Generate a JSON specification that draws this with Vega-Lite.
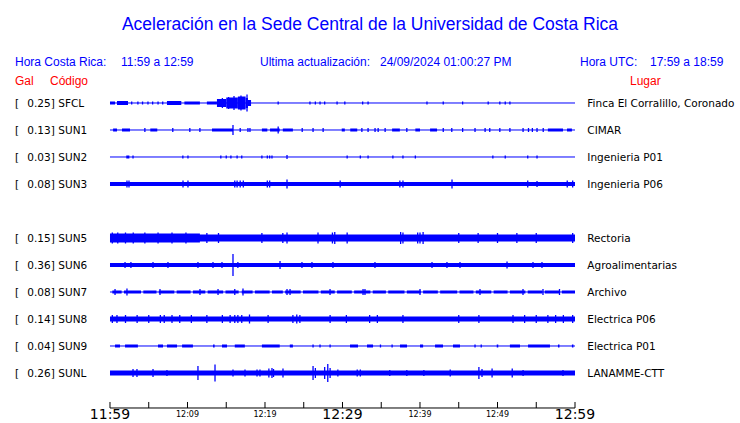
{
  "$schema": "https://vega.github.io/schema/vega-lite/v6.json",
  "width": 740,
  "height": 423,
  "autosize": {"type": "fit", "contains": "padding"},
  "padding": 0,
  "background": "white",
  "config": {"view": {"stroke": null}},
  "data": {"values": [{}]},
  "datasets": {
    "stations": [
      {"code": "SFCL", "order": 1, "gal": 0.25, "lugar": "Finca El Corralillo, Coronado"},
      {"code": "SUN1", "order": 2, "gal": 0.13, "lugar": "CIMAR"},
      {"code": "SUN2", "order": 3, "gal": 0.03, "lugar": "Ingenieria P01"},
      {"code": "SUN3", "order": 4, "gal": 0.08, "lugar": "Ingenieria P06"},
      {"code": "SUN5", "order": 6, "gal": 0.15, "lugar": "Rectoria"},
      {"code": "SUN6", "order": 7, "gal": 0.36, "lugar": "Agroalimentarias"},
      {"code": "SUN7", "order": 8, "gal": 0.08, "lugar": "Archivo"},
      {"code": "SUN8", "order": 9, "gal": 0.14, "lugar": "Electrica P06"},
      {"code": "SUN9", "order": 10, "gal": 0.04, "lugar": "Electrica P01"},
      {"code": "SUNL", "order": 11, "gal": 0.26, "lugar": "LANAMME-CTT"}
    ],
    "segments": [
      {"c": "SFCL", "a": 0, "b": 60, "w": 1},
      {"c": "SFCL", "a": 0, "b": 0.65, "w": 3},
      {"c": "SFCL", "a": 0.9, "b": 2.32, "w": 4},
      {"c": "SFCL", "a": 7.35, "b": 9.2, "w": 4},
      {"c": "SFCL", "a": 9.6, "b": 11.6, "w": 3},
      {"c": "SFCL", "a": 12.5, "b": 13.8, "w": 3},
      {"c": "SFCL", "a": 13.8, "b": 15.0, "w": 8},
      {"c": "SFCL", "a": 15.0, "b": 16.5, "w": 11},
      {"c": "SFCL", "a": 16.5, "b": 17.5, "w": 13},
      {"c": "SFCL", "a": 17.5, "b": 17.8, "w": 10},
      {"c": "SFCL", "a": 17.8, "b": 18.2, "w": 6},

      {"c": "SUN1", "a": 0, "b": 60, "w": 1},
      {"c": "SUN1", "a": 0.4, "b": 0.9, "w": 3},
      {"c": "SUN1", "a": 1.55, "b": 2.58, "w": 3},
      {"c": "SUN1", "a": 5.2, "b": 6.1, "w": 3},
      {"c": "SUN1", "a": 13.16, "b": 15.87, "w": 3},
      {"c": "SUN1", "a": 19.6, "b": 20.3, "w": 3},
      {"c": "SUN1", "a": 20.65, "b": 21.9, "w": 3},
      {"c": "SUN1", "a": 22.3, "b": 23.6, "w": 3},
      {"c": "SUN1", "a": 29.9, "b": 30.3, "w": 3},
      {"c": "SUN1", "a": 31.0, "b": 31.9, "w": 3},
      {"c": "SUN1", "a": 36.4, "b": 37.4, "w": 3},
      {"c": "SUN1", "a": 39.4, "b": 40.0, "w": 3},
      {"c": "SUN1", "a": 41.3, "b": 42.2, "w": 3},
      {"c": "SUN1", "a": 56.5, "b": 58.45, "w": 3},
      {"c": "SUN1", "a": 58.97, "b": 59.6, "w": 3},

      {"c": "SUN2", "a": 0, "b": 60, "w": 1},
      {"c": "SUN2", "a": 2.1, "b": 2.5, "w": 3},

      {"c": "SUN3", "a": 0, "b": 60, "w": 4},

      {"c": "SUN5", "a": 0, "b": 60, "w": 7},
      {"c": "SUN5", "a": 0, "b": 11.6, "w": 9},

      {"c": "SUN6", "a": 0, "b": 60, "w": 4},

      {"c": "SUN7", "a": 0, "b": 60, "w": 1},
      {"c": "SUN7", "a": 0.3, "b": 1.5, "w": 3},
      {"c": "SUN7", "a": 1.8, "b": 4.0, "w": 3},
      {"c": "SUN7", "a": 4.3, "b": 6.0, "w": 3},
      {"c": "SUN7", "a": 6.3, "b": 8.3, "w": 3},
      {"c": "SUN7", "a": 8.6, "b": 10.4, "w": 3},
      {"c": "SUN7", "a": 10.7, "b": 12.3, "w": 3},
      {"c": "SUN7", "a": 12.6, "b": 14.6, "w": 3},
      {"c": "SUN7", "a": 14.9, "b": 16.6, "w": 3},
      {"c": "SUN7", "a": 17.0, "b": 18.4, "w": 3},
      {"c": "SUN7", "a": 18.7, "b": 20.6, "w": 3},
      {"c": "SUN7", "a": 20.9, "b": 22.3, "w": 3},
      {"c": "SUN7", "a": 22.6, "b": 24.6, "w": 3},
      {"c": "SUN7", "a": 24.9, "b": 26.9, "w": 3},
      {"c": "SUN7", "a": 27.2, "b": 29.0, "w": 3},
      {"c": "SUN7", "a": 29.3, "b": 31.2, "w": 3},
      {"c": "SUN7", "a": 31.5, "b": 33.6, "w": 3},
      {"c": "SUN7", "a": 33.9, "b": 35.6, "w": 3},
      {"c": "SUN7", "a": 35.9, "b": 38.0, "w": 3},
      {"c": "SUN7", "a": 38.3, "b": 40.1, "w": 3},
      {"c": "SUN7", "a": 40.4, "b": 42.3, "w": 3},
      {"c": "SUN7", "a": 42.6, "b": 44.8, "w": 3},
      {"c": "SUN7", "a": 45.1, "b": 46.9, "w": 3},
      {"c": "SUN7", "a": 47.2, "b": 49.2, "w": 3},
      {"c": "SUN7", "a": 49.5, "b": 51.3, "w": 3},
      {"c": "SUN7", "a": 51.6, "b": 53.6, "w": 3},
      {"c": "SUN7", "a": 53.9, "b": 55.8, "w": 3},
      {"c": "SUN7", "a": 56.1, "b": 58.0, "w": 3},
      {"c": "SUN7", "a": 58.3, "b": 60, "w": 3},

      {"c": "SUN8", "a": 0, "b": 60, "w": 5},

      {"c": "SUN9", "a": 0, "b": 60, "w": 1},
      {"c": "SUN9", "a": 0.65, "b": 1.29, "w": 3},
      {"c": "SUN9", "a": 1.94, "b": 3.6, "w": 3},
      {"c": "SUN9", "a": 6.19, "b": 6.84, "w": 3},
      {"c": "SUN9", "a": 7.35, "b": 8.65, "w": 3},
      {"c": "SUN9", "a": 9.3, "b": 10.7, "w": 3},
      {"c": "SUN9", "a": 13.3, "b": 13.5, "w": 3},
      {"c": "SUN9", "a": 14.45, "b": 15.1, "w": 3},
      {"c": "SUN9", "a": 16.1, "b": 17.4, "w": 3},
      {"c": "SUN9", "a": 19.6, "b": 21.9, "w": 3},
      {"c": "SUN9", "a": 23.2, "b": 23.6, "w": 3},
      {"c": "SUN9", "a": 30.97, "b": 32.0, "w": 3},
      {"c": "SUN9", "a": 33.16, "b": 33.94, "w": 3},
      {"c": "SUN9", "a": 37.42, "b": 38.32, "w": 3},
      {"c": "SUN9", "a": 40.0, "b": 40.4, "w": 3},
      {"c": "SUN9", "a": 41.94, "b": 42.97, "w": 3},
      {"c": "SUN9", "a": 44.26, "b": 45.16, "w": 3},
      {"c": "SUN9", "a": 49.9, "b": 50.1, "w": 3},
      {"c": "SUN9", "a": 51.6, "b": 52.9, "w": 3},
      {"c": "SUN9", "a": 53.94, "b": 56.77, "w": 3},
      {"c": "SUN9", "a": 57.8, "b": 58.0, "w": 3},
      {"c": "SUN9", "a": 59.6, "b": 59.8, "w": 3},

      {"c": "SUNL", "a": 0, "b": 60, "w": 5}
    ],
    "spikes": [
      {"c": "SFCL", "t": 2.8, "h": 3}, {"c": "SFCL", "t": 3.6, "h": 3}, {"c": "SFCL", "t": 4.2, "h": 3},
      {"c": "SFCL", "t": 4.9, "h": 3}, {"c": "SFCL", "t": 5.5, "h": 3}, {"c": "SFCL", "t": 6.2, "h": 3},
      {"c": "SFCL", "t": 6.8, "h": 3}, {"c": "SFCL", "t": 14.5, "h": 10}, {"c": "SFCL", "t": 15.3, "h": 12},
      {"c": "SFCL", "t": 16.0, "h": 14}, {"c": "SFCL", "t": 16.9, "h": 15}, {"c": "SFCL", "t": 17.68, "h": 17},
      {"c": "SFCL", "t": 21.7, "h": 3}, {"c": "SFCL", "t": 25.8, "h": 3}, {"c": "SFCL", "t": 26.5, "h": 3},
      {"c": "SFCL", "t": 27.1, "h": 3}, {"c": "SFCL", "t": 27.7, "h": 3}, {"c": "SFCL", "t": 29.3, "h": 3},
      {"c": "SFCL", "t": 30.3, "h": 3}, {"c": "SFCL", "t": 32.6, "h": 3}, {"c": "SFCL", "t": 33.3, "h": 3},
      {"c": "SFCL", "t": 40.9, "h": 3}, {"c": "SFCL", "t": 43.0, "h": 3}, {"c": "SFCL", "t": 45.5, "h": 3},
      {"c": "SFCL", "t": 48.8, "h": 3}, {"c": "SFCL", "t": 50.3, "h": 3}, {"c": "SFCL", "t": 51.0, "h": 3},
      {"c": "SFCL", "t": 51.6, "h": 3},

      {"c": "SUN1", "t": 4.5, "h": 4}, {"c": "SUN1", "t": 8.1, "h": 4}, {"c": "SUN1", "t": 10.3, "h": 4},
      {"c": "SUN1", "t": 11.6, "h": 4}, {"c": "SUN1", "t": 15.87, "h": 10}, {"c": "SUN1", "t": 16.8, "h": 4},
      {"c": "SUN1", "t": 17.8, "h": 4}, {"c": "SUN1", "t": 18.06, "h": 4}, {"c": "SUN1", "t": 21.7, "h": 7},
      {"c": "SUN1", "t": 24.8, "h": 4}, {"c": "SUN1", "t": 26.2, "h": 4}, {"c": "SUN1", "t": 27.5, "h": 4},
      {"c": "SUN1", "t": 32.5, "h": 4}, {"c": "SUN1", "t": 33.3, "h": 4}, {"c": "SUN1", "t": 34.2, "h": 4},
      {"c": "SUN1", "t": 34.6, "h": 4}, {"c": "SUN1", "t": 35.5, "h": 4}, {"c": "SUN1", "t": 38.3, "h": 4},
      {"c": "SUN1", "t": 43.0, "h": 4}, {"c": "SUN1", "t": 44.1, "h": 4}, {"c": "SUN1", "t": 45.5, "h": 4},
      {"c": "SUN1", "t": 47.1, "h": 4}, {"c": "SUN1", "t": 48.4, "h": 4}, {"c": "SUN1", "t": 49.0, "h": 4},
      {"c": "SUN1", "t": 50.3, "h": 4}, {"c": "SUN1", "t": 51.6, "h": 4}, {"c": "SUN1", "t": 53.3, "h": 4},
      {"c": "SUN1", "t": 54.0, "h": 4}, {"c": "SUN1", "t": 54.5, "h": 4}, {"c": "SUN1", "t": 55.1, "h": 4},
      {"c": "SUN1", "t": 55.9, "h": 4},

      {"c": "SUN2", "t": 2.97, "h": 3}, {"c": "SUN2", "t": 9.4, "h": 3}, {"c": "SUN2", "t": 10.06, "h": 3},
      {"c": "SUN2", "t": 14.3, "h": 3}, {"c": "SUN2", "t": 15.0, "h": 3}, {"c": "SUN2", "t": 15.6, "h": 3},
      {"c": "SUN2", "t": 16.4, "h": 3}, {"c": "SUN2", "t": 17.0, "h": 3}, {"c": "SUN2", "t": 19.6, "h": 3},
      {"c": "SUN2", "t": 20.3, "h": 3}, {"c": "SUN2", "t": 20.6, "h": 3}, {"c": "SUN2", "t": 20.9, "h": 3},
      {"c": "SUN2", "t": 22.84, "h": 4}, {"c": "SUN2", "t": 30.6, "h": 3}, {"c": "SUN2", "t": 32.3, "h": 3},
      {"c": "SUN2", "t": 33.3, "h": 3}, {"c": "SUN2", "t": 36.5, "h": 3}, {"c": "SUN2", "t": 37.8, "h": 3},
      {"c": "SUN2", "t": 39.4, "h": 3}, {"c": "SUN2", "t": 49.4, "h": 3}, {"c": "SUN2", "t": 51.0, "h": 3},
      {"c": "SUN2", "t": 53.9, "h": 3}, {"c": "SUN2", "t": 55.1, "h": 3},

      {"c": "SUN3", "t": 2.19, "h": 7}, {"c": "SUN3", "t": 2.45, "h": 7}, {"c": "SUN3", "t": 9.42, "h": 7},
      {"c": "SUN3", "t": 10.06, "h": 7}, {"c": "SUN3", "t": 16.1, "h": 7}, {"c": "SUN3", "t": 16.4, "h": 7},
      {"c": "SUN3", "t": 16.8, "h": 7}, {"c": "SUN3", "t": 17.2, "h": 7}, {"c": "SUN3", "t": 20.3, "h": 7},
      {"c": "SUN3", "t": 20.6, "h": 7}, {"c": "SUN3", "t": 22.84, "h": 9}, {"c": "SUN3", "t": 29.7, "h": 7},
      {"c": "SUN3", "t": 37.4, "h": 7}, {"c": "SUN3", "t": 37.8, "h": 7}, {"c": "SUN3", "t": 44.13, "h": 9},
      {"c": "SUN3", "t": 53.9, "h": 7}, {"c": "SUN3", "t": 55.1, "h": 6}, {"c": "SUN3", "t": 59.0, "h": 7},
      {"c": "SUN3", "t": 59.7, "h": 7},

      {"c": "SUN5", "t": 0.3, "h": 11}, {"c": "SUN5", "t": 1.0, "h": 11}, {"c": "SUN5", "t": 2.0, "h": 11},
      {"c": "SUN5", "t": 3.0, "h": 11}, {"c": "SUN5", "t": 4.5, "h": 11}, {"c": "SUN5", "t": 6.2, "h": 11},
      {"c": "SUN5", "t": 8.0, "h": 11}, {"c": "SUN5", "t": 9.8, "h": 11}, {"c": "SUN5", "t": 12.5, "h": 10},
      {"c": "SUN5", "t": 14.0, "h": 10}, {"c": "SUN5", "t": 19.6, "h": 10}, {"c": "SUN5", "t": 22.3, "h": 10},
      {"c": "SUN5", "t": 22.84, "h": 11}, {"c": "SUN5", "t": 26.84, "h": 11}, {"c": "SUN5", "t": 28.7, "h": 11},
      {"c": "SUN5", "t": 29.0, "h": 12}, {"c": "SUN5", "t": 30.6, "h": 11}, {"c": "SUN5", "t": 37.5, "h": 12},
      {"c": "SUN5", "t": 37.8, "h": 11}, {"c": "SUN5", "t": 39.7, "h": 11}, {"c": "SUN5", "t": 40.0, "h": 11},
      {"c": "SUN5", "t": 40.4, "h": 12}, {"c": "SUN5", "t": 45.0, "h": 10}, {"c": "SUN5", "t": 47.5, "h": 10},
      {"c": "SUN5", "t": 50.0, "h": 10}, {"c": "SUN5", "t": 52.5, "h": 10}, {"c": "SUN5", "t": 55.0, "h": 10},
      {"c": "SUN5", "t": 59.7, "h": 10},

      {"c": "SUN6", "t": 1.94, "h": 6}, {"c": "SUN6", "t": 2.7, "h": 6}, {"c": "SUN6", "t": 5.55, "h": 6},
      {"c": "SUN6", "t": 7.48, "h": 6}, {"c": "SUN6", "t": 11.35, "h": 6}, {"c": "SUN6", "t": 13.29, "h": 6},
      {"c": "SUN6", "t": 14.45, "h": 6}, {"c": "SUN6", "t": 15.87, "h": 22}, {"c": "SUN6", "t": 16.5, "h": 6},
      {"c": "SUN6", "t": 21.94, "h": 8}, {"c": "SUN6", "t": 24.77, "h": 6}, {"c": "SUN6", "t": 26.06, "h": 6},
      {"c": "SUN6", "t": 28.77, "h": 6}, {"c": "SUN6", "t": 34.19, "h": 6}, {"c": "SUN6", "t": 41.55, "h": 6},
      {"c": "SUN6", "t": 43.48, "h": 6}, {"c": "SUN6", "t": 45.16, "h": 6}, {"c": "SUN6", "t": 51.23, "h": 7},
      {"c": "SUN6", "t": 54.58, "h": 6}, {"c": "SUN6", "t": 55.74, "h": 6},

      {"c": "SUN7", "t": 0.65, "h": 6}, {"c": "SUN7", "t": 2.19, "h": 7}, {"c": "SUN7", "t": 6.45, "h": 6},
      {"c": "SUN7", "t": 11.61, "h": 6}, {"c": "SUN7", "t": 13.94, "h": 6}, {"c": "SUN7", "t": 16.1, "h": 6},
      {"c": "SUN7", "t": 17.16, "h": 7}, {"c": "SUN7", "t": 22.84, "h": 6}, {"c": "SUN7", "t": 23.23, "h": 6},
      {"c": "SUN7", "t": 28.39, "h": 6}, {"c": "SUN7", "t": 32.65, "h": 6}, {"c": "SUN7", "t": 32.9, "h": 6},
      {"c": "SUN7", "t": 40.0, "h": 6}, {"c": "SUN7", "t": 47.74, "h": 6}, {"c": "SUN7", "t": 53.29, "h": 6},
      {"c": "SUN7", "t": 55.87, "h": 6}, {"c": "SUN7", "t": 58.0, "h": 6},

      {"c": "SUN8", "t": 0.3, "h": 8}, {"c": "SUN8", "t": 0.9, "h": 8}, {"c": "SUN8", "t": 2.0, "h": 8},
      {"c": "SUN8", "t": 3.5, "h": 8}, {"c": "SUN8", "t": 5.0, "h": 8}, {"c": "SUN8", "t": 6.5, "h": 8},
      {"c": "SUN8", "t": 7.0, "h": 8}, {"c": "SUN8", "t": 8.0, "h": 8}, {"c": "SUN8", "t": 9.0, "h": 8},
      {"c": "SUN8", "t": 10.5, "h": 8}, {"c": "SUN8", "t": 12.5, "h": 8}, {"c": "SUN8", "t": 14.5, "h": 8},
      {"c": "SUN8", "t": 15.5, "h": 8}, {"c": "SUN8", "t": 16.1, "h": 8}, {"c": "SUN8", "t": 16.5, "h": 8},
      {"c": "SUN8", "t": 17.0, "h": 8}, {"c": "SUN8", "t": 18.0, "h": 9}, {"c": "SUN8", "t": 20.4, "h": 8},
      {"c": "SUN8", "t": 23.6, "h": 8}, {"c": "SUN8", "t": 24.1, "h": 9}, {"c": "SUN8", "t": 24.5, "h": 8},
      {"c": "SUN8", "t": 28.4, "h": 8}, {"c": "SUN8", "t": 30.5, "h": 8}, {"c": "SUN8", "t": 33.5, "h": 8},
      {"c": "SUN8", "t": 34.5, "h": 8}, {"c": "SUN8", "t": 37.8, "h": 8}, {"c": "SUN8", "t": 45.0, "h": 8},
      {"c": "SUN8", "t": 47.6, "h": 8}, {"c": "SUN8", "t": 52.0, "h": 8}, {"c": "SUN8", "t": 53.5, "h": 8},
      {"c": "SUN8", "t": 55.0, "h": 8}, {"c": "SUN8", "t": 56.5, "h": 8}, {"c": "SUN8", "t": 57.5, "h": 8},
      {"c": "SUN8", "t": 58.5, "h": 8}, {"c": "SUN8", "t": 59.7, "h": 8},

      {"c": "SUN9", "t": 26.2, "h": 3}, {"c": "SUN9", "t": 27.1, "h": 3}, {"c": "SUN9", "t": 28.4, "h": 3},
      {"c": "SUN9", "t": 34.9, "h": 3}, {"c": "SUN9", "t": 36.4, "h": 3}, {"c": "SUN9", "t": 47.1, "h": 3},
      {"c": "SUN9", "t": 47.9, "h": 3},

      {"c": "SUNL", "t": 2.97, "h": 8}, {"c": "SUNL", "t": 3.48, "h": 8}, {"c": "SUNL", "t": 5.55, "h": 8},
      {"c": "SUNL", "t": 7.35, "h": 6}, {"c": "SUNL", "t": 11.35, "h": 14}, {"c": "SUNL", "t": 13.55, "h": 17},
      {"c": "SUNL", "t": 15.87, "h": 7}, {"c": "SUNL", "t": 17.42, "h": 7}, {"c": "SUNL", "t": 18.97, "h": 7},
      {"c": "SUNL", "t": 19.35, "h": 7}, {"c": "SUNL", "t": 20.5, "h": 9}, {"c": "SUNL", "t": 20.9, "h": 10},
      {"c": "SUNL", "t": 21.1, "h": 8}, {"c": "SUNL", "t": 22.32, "h": 9}, {"c": "SUNL", "t": 26.2, "h": 14},
      {"c": "SUNL", "t": 26.5, "h": 10}, {"c": "SUNL", "t": 27.7, "h": 12}, {"c": "SUNL", "t": 28.1, "h": 18},
      {"c": "SUNL", "t": 28.4, "h": 10}, {"c": "SUNL", "t": 29.4, "h": 7}, {"c": "SUNL", "t": 31.9, "h": 7},
      {"c": "SUNL", "t": 32.3, "h": 7}, {"c": "SUNL", "t": 36.1, "h": 6}, {"c": "SUNL", "t": 38.3, "h": 6},
      {"c": "SUNL", "t": 40.5, "h": 6}, {"c": "SUNL", "t": 43.9, "h": 7}, {"c": "SUNL", "t": 47.6, "h": 12},
      {"c": "SUNL", "t": 48.0, "h": 8}, {"c": "SUNL", "t": 49.3, "h": 9}, {"c": "SUNL", "t": 51.9, "h": 9},
      {"c": "SUNL", "t": 53.3, "h": 6}, {"c": "SUNL", "t": 58.45, "h": 6}
    ],
    "axisticks": [
      {"t": 0}, {"t": 5}, {"t": 10}, {"t": 15}, {"t": 20}, {"t": 25}, {"t": 30},
      {"t": 35}, {"t": 40}, {"t": 45}, {"t": 50}, {"t": 55}, {"t": 60}
    ],
    "axislabels": [
      {"t": 0, "label": "11:59", "big": 1},
      {"t": 10, "label": "12:09", "big": 0},
      {"t": 20, "label": "12:19", "big": 0},
      {"t": 30, "label": "12:29", "big": 1},
      {"t": 40, "label": "12:39", "big": 0},
      {"t": 50, "label": "12:49", "big": 0},
      {"t": 60, "label": "12:59", "big": 1}
    ]
  },
  "layer": [
    {
      "data": {"name": "segments"},
      "transform": [{"lookup": "c", "from": {"data": {"name": "stations"}, "key": "code", "fields": ["order"]}}],
      "mark": {"type": "rule", "color": "#0000ff", "strokeCap": "butt"},
      "encoding": {
        "x": {"field": "a", "type": "quantitative", "scale": {"domain": [-14.1935, 81.2903], "nice": false, "zero": false}, "axis": null},
        "x2": {"field": "b"},
        "y": {"field": "order", "type": "quantitative", "scale": {"domain": [-2.8148, 12.8519], "nice": false, "zero": false, "reverse": true}, "axis": null},
        "strokeWidth": {"field": "w", "type": "quantitative", "scale": {"domain": [0, 20], "range": [0, 20]}, "legend": null}
      }
    },
    {
      "data": {"name": "spikes"},
      "transform": [{"lookup": "c", "from": {"data": {"name": "stations"}, "key": "code", "fields": ["order"]}}],
      "mark": {"type": "tick", "orient": "vertical", "color": "#0000ff", "thickness": 1.3, "opacity": 1},
      "encoding": {
        "x": {"field": "t", "type": "quantitative", "scale": {"domain": [-14.1935, 81.2903], "nice": false, "zero": false}, "axis": null},
        "y": {"field": "order", "type": "quantitative", "scale": {"domain": [-2.8148, 12.8519], "nice": false, "zero": false, "reverse": true}, "axis": null},
        "size": {"field": "h", "type": "quantitative", "scale": {"domain": [0, 20], "range": [0, 20]}, "legend": null}
      }
    },
    {
      "data": {"name": "stations"},
      "layer": [
        {
          "mark": {"type": "text", "align": "left", "baseline": "alphabetic", "dy": 4, "font": "DejaVu Sans", "fontSize": 10.5, "color": "#000000"},
          "encoding": {"x": {"datum": -12.258, "type": "quantitative"}, "y": {"field": "order", "type": "quantitative"}, "text": {"value": "["}}
        },
        {
          "mark": {"type": "text", "align": "left", "baseline": "alphabetic", "dy": 4, "font": "DejaVu Sans", "fontSize": 10.5, "color": "#000000"},
          "encoding": {"x": {"datum": -10.671, "type": "quantitative"}, "y": {"field": "order", "type": "quantitative"}, "text": {"field": "gal", "type": "quantitative", "format": ".2f"}}
        },
        {
          "mark": {"type": "text", "align": "left", "baseline": "alphabetic", "dy": 4, "font": "DejaVu Sans", "fontSize": 10.5, "color": "#000000"},
          "encoding": {"x": {"datum": -7.652, "type": "quantitative"}, "y": {"field": "order", "type": "quantitative"}, "text": {"value": "]"}}
        },
        {
          "mark": {"type": "text", "align": "left", "baseline": "alphabetic", "dy": 4, "font": "DejaVu Sans", "fontSize": 10.5, "color": "#000000"},
          "encoding": {"x": {"datum": -6.671, "type": "quantitative"}, "y": {"field": "order", "type": "quantitative"}, "text": {"field": "code", "type": "nominal"}}
        },
        {
          "mark": {"type": "text", "align": "left", "baseline": "alphabetic", "dy": 4, "font": "DejaVu Sans", "fontSize": 10.5, "color": "#000000"},
          "encoding": {"x": {"datum": 61.587, "type": "quantitative"}, "y": {"field": "order", "type": "quantitative"}, "text": {"field": "lugar", "type": "nominal"}}
        }
      ]
    },
    {
      "mark": {"type": "text", "align": "center", "baseline": "alphabetic", "font": "Liberation Sans", "fontSize": 17.5, "color": "#0000ff"},
      "encoding": {"x": {"datum": 33.548, "type": "quantitative"}, "y": {"datum": -1.7037, "type": "quantitative"}, "text": {"value": "Aceleración en la Sede Central de la Universidad de Costa Rica"}}
    },
    {
      "mark": {"type": "text", "align": "left", "baseline": "alphabetic", "font": "Liberation Sans", "fontSize": 12, "color": "#0000ff"},
      "encoding": {"x": {"datum": -12.258, "type": "quantitative"}, "y": {"datum": -0.3704, "type": "quantitative"}, "text": {"value": "Hora Costa Rica:"}}
    },
    {
      "mark": {"type": "text", "align": "left", "baseline": "alphabetic", "font": "Liberation Sans", "fontSize": 12, "color": "#0000ff"},
      "encoding": {"x": {"datum": 1.419, "type": "quantitative"}, "y": {"datum": -0.3704, "type": "quantitative"}, "text": {"value": "11:59 a 12:59"}}
    },
    {
      "mark": {"type": "text", "align": "left", "baseline": "alphabetic", "font": "Liberation Sans", "fontSize": 12, "color": "#0000ff"},
      "encoding": {"x": {"datum": 19.355, "type": "quantitative"}, "y": {"datum": -0.3704, "type": "quantitative"}, "text": {"value": "Ultima actualización:"}}
    },
    {
      "mark": {"type": "text", "align": "left", "baseline": "alphabetic", "font": "Liberation Sans", "fontSize": 12, "color": "#0000ff"},
      "encoding": {"x": {"datum": 34.839, "type": "quantitative"}, "y": {"datum": -0.3704, "type": "quantitative"}, "text": {"value": "24/09/2024 01:00:27 PM"}}
    },
    {
      "mark": {"type": "text", "align": "left", "baseline": "alphabetic", "font": "Liberation Sans", "fontSize": 12, "color": "#0000ff"},
      "encoding": {"x": {"datum": 60.645, "type": "quantitative"}, "y": {"datum": -0.3704, "type": "quantitative"}, "text": {"value": "Hora UTC:"}}
    },
    {
      "mark": {"type": "text", "align": "left", "baseline": "alphabetic", "font": "Liberation Sans", "fontSize": 12, "color": "#0000ff"},
      "encoding": {"x": {"datum": 69.677, "type": "quantitative"}, "y": {"datum": -0.3704, "type": "quantitative"}, "text": {"value": "17:59 a 18:59"}}
    },
    {
      "mark": {"type": "text", "align": "left", "baseline": "alphabetic", "font": "Liberation Sans", "fontSize": 12, "color": "#ff0000"},
      "encoding": {"x": {"datum": -12.258, "type": "quantitative"}, "y": {"datum": 0.3333, "type": "quantitative"}, "text": {"value": "Gal"}}
    },
    {
      "mark": {"type": "text", "align": "left", "baseline": "alphabetic", "font": "Liberation Sans", "fontSize": 12, "color": "#ff0000"},
      "encoding": {"x": {"datum": -7.742, "type": "quantitative"}, "y": {"datum": 0.3333, "type": "quantitative"}, "text": {"value": "Código"}}
    },
    {
      "mark": {"type": "text", "align": "left", "baseline": "alphabetic", "font": "Liberation Sans", "fontSize": 12, "color": "#ff0000"},
      "encoding": {"x": {"datum": 67.097, "type": "quantitative"}, "y": {"datum": 0.3333, "type": "quantitative"}, "text": {"value": "Lugar"}}
    },
    {
      "mark": {"type": "rule", "color": "#000000", "strokeWidth": 1},
      "encoding": {"x": {"datum": 0, "type": "quantitative"}, "x2": {"datum": 60}, "y": {"datum": 12.296, "type": "quantitative"}}
    },
    {
      "data": {"name": "axisticks"},
      "mark": {"type": "rule", "color": "#000000", "strokeWidth": 1},
      "encoding": {"x": {"field": "t", "type": "quantitative"}, "y": {"datum": 12.074, "type": "quantitative"}, "y2": {"datum": 12.296}}
    },
    {
      "data": {"name": "axislabels"},
      "transform": [{"filter": "datum.big == 1"}],
      "mark": {"type": "text", "align": "center", "baseline": "alphabetic", "font": "DejaVu Sans", "fontSize": 14, "color": "#000000"},
      "encoding": {"x": {"field": "t", "type": "quantitative"}, "y": {"datum": 12.704, "type": "quantitative"}, "text": {"field": "label", "type": "nominal"}}
    },
    {
      "data": {"name": "axislabels"},
      "transform": [{"filter": "datum.big == 0"}],
      "mark": {"type": "text", "align": "center", "baseline": "alphabetic", "font": "DejaVu Sans", "fontSize": 8, "color": "#000000"},
      "encoding": {"x": {"field": "t", "type": "quantitative"}, "y": {"datum": 12.641, "type": "quantitative"}, "text": {"field": "label", "type": "nominal"}}
    }
  ]
}
